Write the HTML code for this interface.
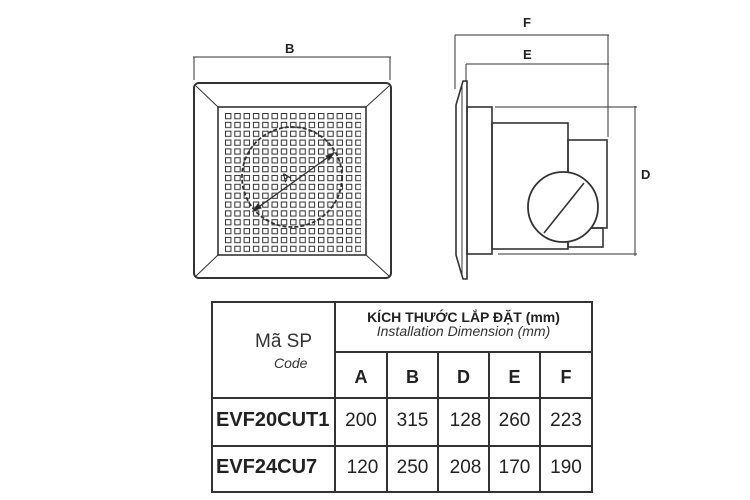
<!DOCTYPE html>
<html><head><meta charset="utf-8"><style>
html,body{margin:0;padding:0;background:#fff;}
body{width:750px;height:500px;position:relative;overflow:hidden;font-family:"Liberation Sans","Noto Sans CJK SC",sans-serif;color:#222;}
.t{position:absolute;white-space:nowrap;}
</style></head><body>
<svg width="750" height="500" style="position:absolute;left:0;top:0" xmlns="http://www.w3.org/2000/svg">
<defs>
<pattern id="g" x="225" y="113" width="9.3" height="8.85" patternUnits="userSpaceOnUse">
<rect x="0.5" y="0.5" width="5.4" height="5.2" fill="none" stroke="#333" stroke-width="1"/>
</pattern>
</defs>
<g stroke="#333" fill="none" stroke-width="1">
<line x1="193" y1="57" x2="391" y2="57"/>
<line x1="194" y1="57" x2="194" y2="80"/>
<line x1="390" y1="57" x2="390" y2="80"/>
<rect x="194" y="83" width="197" height="195" rx="5" stroke-width="2"/>
<rect x="218" y="107" width="148" height="148" stroke-width="1.6"/>
<line x1="196" y1="86" x2="218" y2="107"/><line x1="389" y1="86" x2="366" y2="107"/>
<line x1="196" y1="276" x2="218" y2="255"/><line x1="389" y1="276" x2="366" y2="255"/>
<rect x="225" y="113" width="136" height="141" fill="url(#g)" stroke="none"/>
<circle cx="292" cy="177" r="50" stroke-dasharray="4,2" stroke-width="1.8"/>
<line x1="253" y1="211" x2="334" y2="153" stroke-width="1.3"/>
<path d="M253 211 l8 -3 l-3 -4 z M334 153 l-8 3 l3 4 z" fill="#222"/>
<line x1="455" y1="35" x2="609" y2="35"/>
<line x1="455" y1="35" x2="455" y2="89"/>
<line x1="608" y1="35" x2="608" y2="137"/>
<line x1="466" y1="64" x2="609" y2="64"/>
<line x1="466" y1="64" x2="466" y2="82"/>
<line x1="495" y1="107" x2="637" y2="107"/>
<line x1="498" y1="254" x2="637" y2="254"/>
<line x1="635" y1="106" x2="635" y2="256"/>
<path d="M463 81 L467 81 L467 279 L463 279 L456 255 L456 105 Z" stroke-width="1.6"/>
<line x1="462" y1="84" x2="462" y2="276"/>
<rect x="467" y="107" width="25" height="147" stroke-width="1.6"/>
<rect x="492" y="123" width="76" height="126" stroke-width="1.6"/>
<rect x="568" y="140" width="39" height="88" stroke-width="1.6"/>
<rect x="568" y="228" width="35" height="19" stroke-width="1.6"/>
<circle cx="563" cy="207" r="35" fill="#fff" stroke-width="1.8"/>
<line x1="544" y1="233" x2="584" y2="183" stroke-width="1.6"/>
</g>
<g stroke="#333" stroke-width="2" fill="none">
<rect x="212" y="302" width="380" height="190"/>
<line x1="335" y1="302" x2="335" y2="492"/>
<line x1="335" y1="352" x2="592" y2="352"/>
<line x1="212" y1="398" x2="592" y2="398"/>
<line x1="212" y1="446" x2="592" y2="446"/>
<line x1="387" y1="352" x2="387" y2="492"/>
<line x1="438" y1="352" x2="438" y2="492"/>
<line x1="489" y1="352" x2="489" y2="492"/>
<line x1="540" y1="352" x2="540" y2="492"/>
</g>
</svg>
<div class="t" style="left:285px;top:41px;font-weight:bold;font-size:13px">B</div>
<div class="t" style="left:282px;top:170px;font-size:12px;transform:rotate(-36deg)">A</div>
<div class="t" style="left:523px;top:15px;font-weight:bold;font-size:13px">F</div>
<div class="t" style="left:523px;top:47px;font-weight:bold;font-size:13px">E</div>
<div class="t" style="left:641px;top:167px;font-weight:bold;font-size:13px">D</div>

<div class="t" style="left:335px;width:257px;text-align:center;top:310px;font-weight:bold;font-size:14px;line-height:15px">KÍCH THƯỚC LẮP ĐẶT (mm)</div>
<div class="t" style="left:335px;width:257px;text-align:center;top:324px;font-style:italic;font-size:14px;line-height:15px;color:#333">Installation Dimension (mm)</div>
<div class="t" style="left:255px;top:331px;font-size:19px;color:#333">Mã SP</div>
<div class="t" style="left:274px;top:355px;font-style:italic;font-size:14px;color:#333">Code</div>
<div class="t" style="left:335px;width:52px;text-align:center;top:367px;font-weight:bold;font-size:18px">A</div>
<div class="t" style="left:387px;width:51px;text-align:center;top:367px;font-weight:bold;font-size:18px">B</div>
<div class="t" style="left:438px;width:51px;text-align:center;top:367px;font-weight:bold;font-size:18px">D</div>
<div class="t" style="left:489px;width:51px;text-align:center;top:367px;font-weight:bold;font-size:18px">E</div>
<div class="t" style="left:540px;width:52px;text-align:center;top:367px;font-weight:bold;font-size:18px">F</div>

<div class="t" style="left:216px;top:409px;font-weight:bold;font-size:20px">EVF20CUT1</div>
<div class="t" style="left:335px;width:52px;text-align:center;top:410px;font-size:19px">200</div>
<div class="t" style="left:387px;width:51px;text-align:center;top:410px;font-size:19px">315</div>
<div class="t" style="left:438px;width:55px;text-align:center;top:410px;font-size:19px">128</div>
<div class="t" style="left:489px;width:51px;text-align:center;top:410px;font-size:19px">260</div>
<div class="t" style="left:540px;width:52px;text-align:center;top:410px;font-size:19px">223</div>

<div class="t" style="left:216px;top:456px;font-weight:bold;font-size:20px">EVF24CU7</div>
<div class="t" style="left:335px;width:55px;text-align:center;top:457px;font-size:19px">120</div>
<div class="t" style="left:387px;width:51px;text-align:center;top:457px;font-size:19px">250</div>
<div class="t" style="left:438px;width:55px;text-align:center;top:457px;font-size:19px">208</div>
<div class="t" style="left:489px;width:51px;text-align:center;top:457px;font-size:19px">170</div>
<div class="t" style="left:540px;width:52px;text-align:center;top:457px;font-size:19px">190</div>
</body></html>
